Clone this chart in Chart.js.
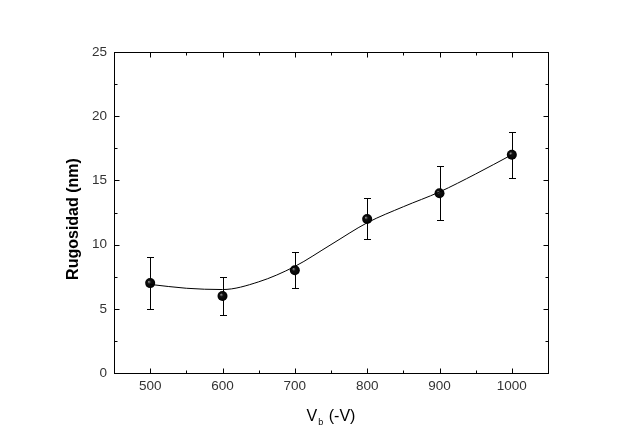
<!DOCTYPE html>
<html>
<head>
<meta charset="utf-8">
<script src="https://cdn.jsdelivr.net/npm/chart.js@4/dist/chart.umd.min.js"></script>
<style>
html,body{margin:0;padding:0;background:#fff;}
#c{display:block;}
</style>
</head>
<body>
<canvas id="c" width="637" height="448"></canvas>
<script>
// Data
const voltages = [500, 600, 700, 800, 900, 1000];
const roughness = [7, 6, 8, 12, 14, 17];
const errors = [2, 1.5, 1.4, 1.6, 2.1, 1.8];
const fitX = [500, 550, 600, 650, 700, 750, 800, 850, 900, 950, 1000];
const fitY = [6.9, 6.6, 6.5, 7.1, 8.3, 10.0, 11.7, 12.95, 14.1, 15.5, 17.0];
const xTicks = [500, 600, 700, 800, 900, 1000];
const yTicks = [0, 5, 10, 15, 20, 25];
const xTitle = 'V';
const xTitleSub = 'b';
const xTitleRest = ' (-V)';
const yTitle = 'Rugosidad (nm)';

const AREA = {left: 114, top: 52, right: 548, bottom: 373};

const errorBars = {
  id: 'errorBars',
  beforeDatasetsDraw(chart) {
    const {ctx, scales: {x, y}} = chart;
    ctx.save();
    ctx.strokeStyle = '#000';
    ctx.lineWidth = 1;
    voltages.forEach((v, i) => {
      const px = Math.round(x.getPixelForValue(v)) + 0.5;
      const top = Math.round(y.getPixelForValue(roughness[i] + errors[i])) + 0.5;
      const bot = Math.round(y.getPixelForValue(roughness[i] - errors[i])) + 0.5;
      ctx.beginPath();
      ctx.moveTo(px, top); ctx.lineTo(px, bot);
      ctx.moveTo(px - 3.5, top); ctx.lineTo(px + 3.5, top);
      ctx.moveTo(px - 3.5, bot); ctx.lineTo(px + 3.5, bot);
      ctx.stroke();
    });
    ctx.restore();
  }
};

const frame = {
  id: 'frame',
  afterDraw(chart) {
    const {ctx, chartArea: a, scales: {x, y}} = chart;
    ctx.save();
    ctx.strokeStyle = '#000';
    ctx.lineWidth = 1;
    const L = Math.round(a.left) + 0.5, R = Math.round(a.right) + 0.5;
    const T = Math.round(a.top) + 0.5, B = Math.round(a.bottom) + 0.5;
    ctx.strokeRect(L, T, R - L, B - T);
    ctx.beginPath();
    for (let v = 450; v <= 1050; v += 50) {
      const px = Math.round(x.getPixelForValue(v)) + 0.5;
      const len = (v % 100 === 0) ? 5 : 3;
      ctx.moveTo(px, B); ctx.lineTo(px, B - len);
      ctx.moveTo(px, T); ctx.lineTo(px, T + len);
    }
    for (let v = 0; v <= 25; v += 2.5) {
      const py = Math.round(y.getPixelForValue(v)) + 0.5;
      const len = (v % 5 === 0) ? 5 : 3;
      ctx.moveTo(L, py); ctx.lineTo(L + len, py);
      ctx.moveTo(R, py); ctx.lineTo(R - len, py);
    }
    ctx.stroke();

    // axis titles
    ctx.fillStyle = '#000';
    ctx.font = '16px "Liberation Sans", Arial, sans-serif';
    ctx.textBaseline = 'alphabetic';
    const mainW = ctx.measureText(xTitle).width;
    ctx.font = '9px "Liberation Sans", Arial, sans-serif';
    const subW = ctx.measureText(xTitleSub).width;
    ctx.font = '16px "Liberation Sans", Arial, sans-serif';
    const restW = ctx.measureText(xTitleRest).width;
    const total = mainW + subW + 2 + restW;
    let sx = (a.left + a.right) / 2 - total / 2;
    const base = 421;
    ctx.textAlign = 'left';
    ctx.fillText(xTitle, sx, base);
    sx += mainW + 1;
    ctx.font = '9px "Liberation Sans", Arial, sans-serif';
    ctx.fillText(xTitleSub, sx, base + 4);
    sx += subW + 1;
    ctx.font = '16px "Liberation Sans", Arial, sans-serif';
    ctx.fillText(xTitleRest, sx, base);

    ctx.translate(78, 219);
    ctx.rotate(-Math.PI / 2);
    ctx.textAlign = 'center';
    ctx.font = 'bold 16px "Liberation Sans", Arial, sans-serif';
    ctx.fillText(yTitle, 0, 0);
    ctx.restore();
  }
};

function pointFill(context) {
  const chart = context.chart;
  const sx = chart.scales && chart.scales.x, sy = chart.scales && chart.scales.y;
  if (!sx || !sy || !context.parsed) return '#000';
  const px = sx.getPixelForValue(context.parsed.x);
  const py = sy.getPixelForValue(context.parsed.y);
  if (!isFinite(px) || !isFinite(py)) return '#000';
  const g = chart.ctx.createRadialGradient(px - 1.5, py - 1.5, 0, px, py, 5);
  g.addColorStop(0, '#9a9a9a');
  g.addColorStop(0.35, '#111');
  g.addColorStop(1, '#000');
  return g;
}

new Chart(document.getElementById('c'), {
  type: 'scatter',
  data: {
    datasets: [
      {
        label: 'fit',
        data: fitX.map((v, i) => ({x: v, y: fitY[i]})),
        showLine: true,
        borderColor: '#000',
        borderWidth: 1,
        pointRadius: 0,
        cubicInterpolationMode: 'monotone',
        fill: false
      },
      {
        label: 'Rugosidad',
        data: voltages.map((v, i) => ({x: v, y: roughness[i]})),
        pointRadius: 5,
        pointBorderWidth: 0,
        pointBackgroundColor: pointFill,
        pointBorderColor: '#000',
        showLine: false
      }
    ]
  },
  options: {
    responsive: false,
    animation: false,
    devicePixelRatio: 1,
    layout: {padding: {left: 0, top: AREA.top, right: 637 - AREA.right, bottom: 0}},
    plugins: {legend: {display: false}, tooltip: {enabled: false}},
    scales: {
      x: {
        type: 'linear',
        min: 450, max: 1050,
        afterBuildTicks: s => { s.ticks = xTicks.map(v => ({value: v})); },
        afterFit: s => { s.height = 448 - AREA.bottom; },
        grid: {display: false, drawTicks: false},
        border: {display: false},
        ticks: {
          padding: 5,
          color: '#333',
          font: {family: '"Liberation Sans", Arial, sans-serif', size: 13.5},
          maxRotation: 0,
          callback: v => String(v)
        }
      },
      y: {
        type: 'linear',
        min: 0, max: 25,
        afterBuildTicks: s => { s.ticks = yTicks.map(v => ({value: v})); },
        afterFit: s => { s.width = AREA.left; },
        grid: {display: false, drawTicks: false},
        border: {display: false},
        ticks: {
          padding: 7,
          color: '#333',
          font: {family: '"Liberation Sans", Arial, sans-serif', size: 13.5},
          callback: v => String(v)
        }
      }
    }
  },
  plugins: [errorBars, frame]
});
</script>
</body>
</html>
